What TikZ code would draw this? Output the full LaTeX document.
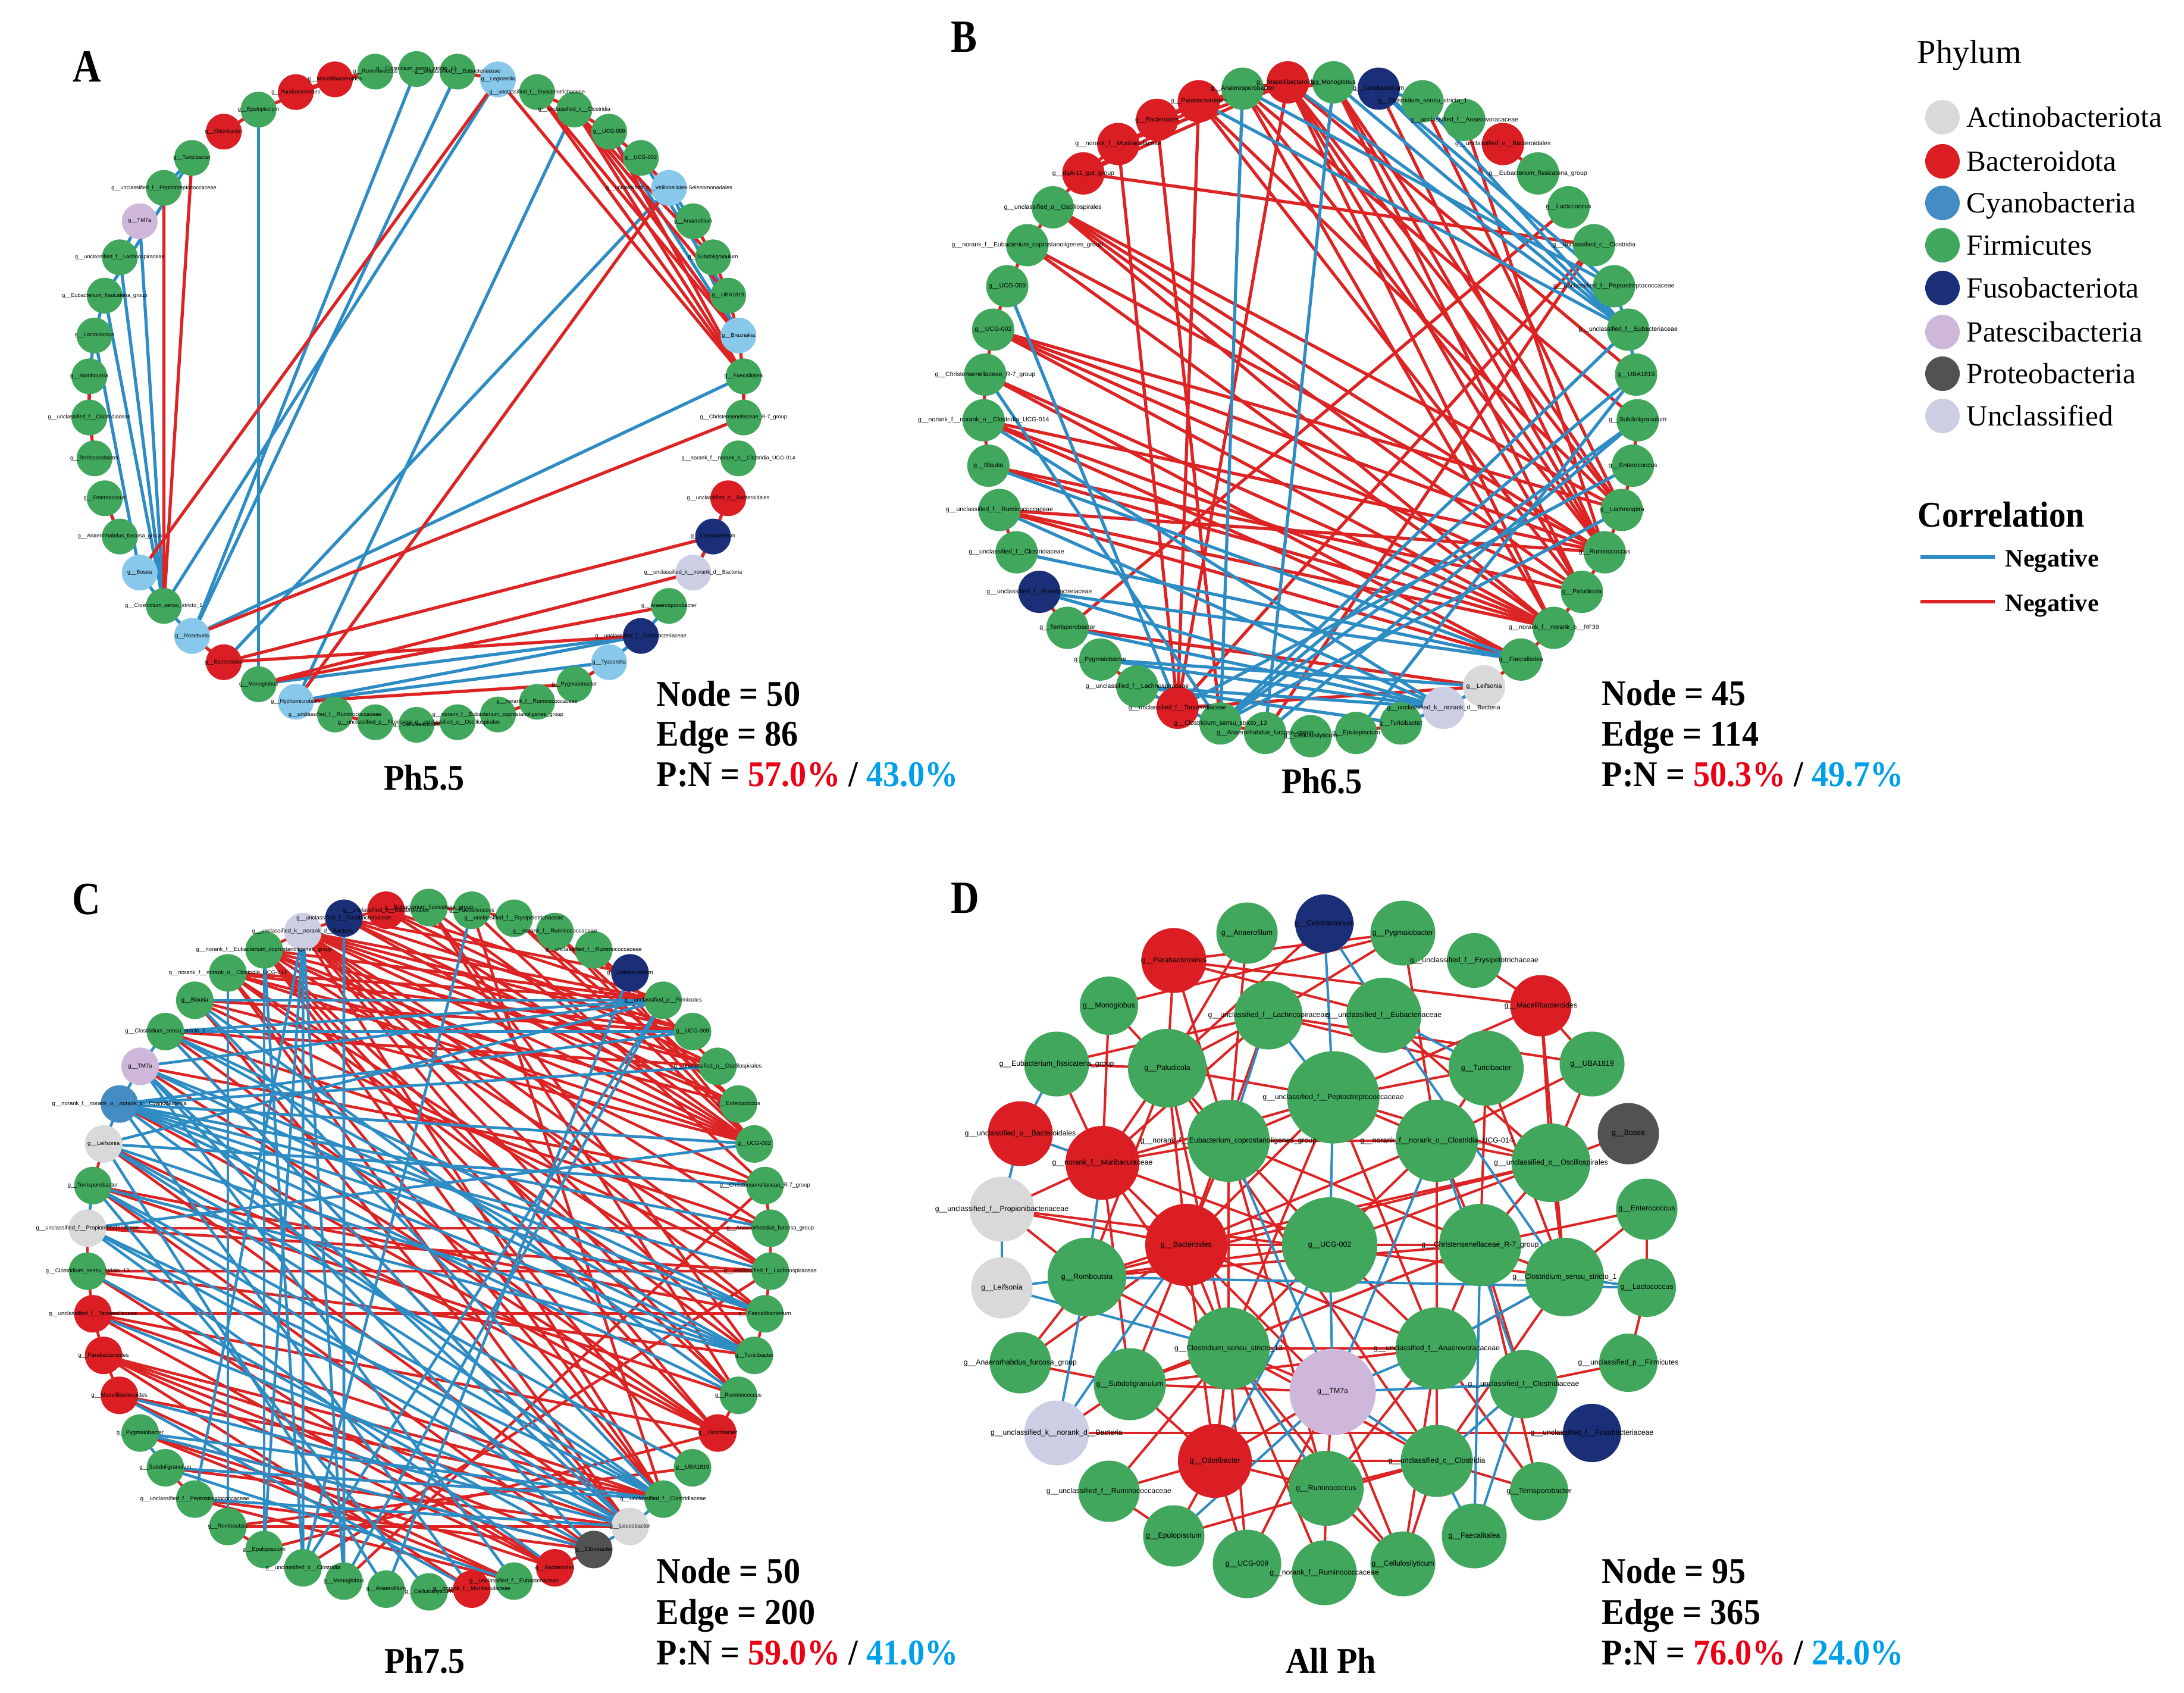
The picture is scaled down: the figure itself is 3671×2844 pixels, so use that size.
\documentclass[tikz,border=0pt]{standalone}
\usepackage{fontspec}
\usepackage{graphicx}
\setmainfont{Liberation Serif}
\newfontfamily\lf{Liberation Sans}
\pgfdeclarelayer{bg}\pgfdeclarelayer{edges}\pgfdeclarelayer{fg}
\pgfsetlayers{bg,edges,main,fg}
\definecolor{act}{RGB}{217,217,217}
\definecolor{bac}{RGB}{218,30,36}
\definecolor{cya}{RGB}{67,141,196}
\definecolor{fir}{RGB}{64,167,92}
\definecolor{fus}{RGB}{27,47,120}
\definecolor{pat}{RGB}{206,183,216}
\definecolor{pro}{RGB}{82,82,82}
\definecolor{unc}{RGB}{204,206,228}
\definecolor{sky}{RGB}{135,200,235}
\definecolor{eblue}{RGB}{45,140,196}
\definecolor{ered}{RGB}{220,36,36}
\definecolor{sred}{RGB}{235,0,20}
\definecolor{sblue}{RGB}{0,160,233}
\newcommand\lab[1]{\detokenize\expandafter{#1}}
\newcommand\vs[1]{\scalebox{1}[1.08]{#1}}
\newcommand\ringnodes[7]{%
  \foreach \i/\nm/\cl in \ringlist {%
    \node[rn,fill=\cl,minimum size=#7cm] (#1\i) at ({#2+#4*cos(#5-(\i-1)*#6)},{#3-#4*sin(#5-(\i-1)*#6)}) {};
    \begin{pgfonlayer}{fg}\node[lb#1] (#1\i t) at (#1\i.center) {\lab{\nm}};\end{pgfonlayer}
  }}
\newcommand\ringedges[3]{%
  \begin{pgfonlayer}{edges}
  \foreach \a/\b in {#3} {\draw[#2] (#1\a.center) -- (#1\b.center);}
  \end{pgfonlayer}}
\begin{document}
\begin{tikzpicture}[x=0.01cm,y=-0.01cm,
  rn/.style={circle,inner sep=0pt,draw=none},
  lbA/.style={inner sep=0pt,font=\lf\fontsize{2.6}{3}\selectfont},
  lbB/.style={inner sep=0pt,font=\lf\fontsize{3}{3.4}\selectfont},
  lbC/.style={inner sep=0pt,font=\lf\fontsize{2.7}{3.1}\selectfont},
  lbD/.style={inner sep=0pt,font=\lf\fontsize{3.5}{4}\selectfont},
  ebA/.style={draw=eblue,line width=1.5pt},
  erA/.style={draw=ered,line width=1.5pt},
  ebC/.style={draw=eblue,line width=1.3pt},
  erC/.style={draw=ered,line width=1.3pt},
  ebD/.style={draw=eblue,line width=1.15pt},
  erD/.style={draw=ered,line width=1.15pt},
  stat/.style={anchor=base west,inner sep=0pt,font=\fontsize{16}{19}\selectfont\bfseries},
  ttl/.style={anchor=base,inner sep=0pt,font=\fontsize{16}{19}\selectfont\bfseries},
  plet/.style={inner sep=0pt,font=\fontsize{22}{26}\selectfont\bfseries},
  lgc/.style={circle,inner sep=0pt,minimum size=0.58cm},
  lgt/.style={anchor=base west,inner sep=0pt,font=\fontsize{14}{17}\selectfont},
]
\begin{pgfonlayer}{bg}
\fill[white] (0,0) rectangle (3671,2844);
\end{pgfonlayer}
\useasboundingbox (0,0) rectangle (3671,2844);

%%%%%%%%%%%%%%%% Panel A
\def\ringlist{1/g__Clostridium_sensu_stricto_13/fir,2/g__unclassified_f__Eubacteriaceae/fir,3/g__Legionella/sky,4/g__unclassified_f__Erysipelotrichaceae/fir,5/g__unclassified_c__Clostridia/fir,6/g__UCG-009/fir,7/g__UCG-002/fir,8/g__unclassified_o__Veillonellales-Selenomonadales/sky,9/g__Anaerofilum/fir,10/g__Subdoligranulum/fir,11/g__UBA1819/fir,12/g__Breznakia/sky,13/g__Faecalitalea/fir,14/g__Christensenellaceae_R-7_group/fir,15/g__norank_f__norank_o__Clostridia_UCG-014/fir,16/g__unclassified_o__Bacteroidales/bac,17/g__Cetobacterium/fus,18/g__unclassified_k__norank_d__Bacteria/unc,19/g__Anaerosporobacter/fir,20/g__unclassified_f__Fusobacteriaceae/fus,21/g__Tyzzerella/sky,22/g__Pygmaiobacter/fir,23/g__norank_f__Ruminococcaceae/fir,24/g__norank_f__Eubacterium_coprostanoligenes_group/fir,25/g__unclassified_o__Oscillospirales/fir,26/g__Cellulosilyticum/fir,27/g__unclassified_p__Firmicutes/fir,28/g__unclassified_f__Ruminococcaceae/fir,29/g__Hyphomicrobium/sky,30/g__Monoglobus/fir,31/g__Bacteroides/bac,32/g__Roseburia/sky,33/g__Clostridium_sensu_stricto_1/fir,34/g__Bosea/sky,35/g__Anaerorhabdus_furcosa_group/fir,36/g__Enterococcus/fir,37/g__Terrisporobacter/fir,38/g__unclassified_f__Clostridiaceae/fir,39/g__Romboutsia/fir,40/g__Lactococcus/fir,41/g__Eubacterium_fissicatena_group/fir,42/g__unclassified_f__Lachnospiraceae/fir,43/g__TM7a/pat,44/g__unclassified_f__Peptostreptococcaceae/fir,45/g__Turicibacter/fir,46/g__Odoribacter/bac,47/g__Epulopiscium/fir,48/g__Parabacteroides/bac,49/g__Macellibacteroides/bac,50/g__Ruminococcus/fir}
\ringnodes{A}{700}{667}{551}{90}{7.2}{0.60}
\ringedges{A}{ebA}{1/32,2/32,3/33,5/29,8/31,13/32,47/30,43/33,42/33,41/33,40/34,45/41,20/30,20/29,21/29,6/12,7/11,8/12,5/12,33/34,32/33,42/43,40/41,20/21,19/20,18/17,8/9,44/45,39/40,36/35}
\ringedges{A}{erA}{44/33,45/33,3/34,3/13,5/11,5/12,5/13,5/10,4/12,6/13,4/13,8/29,14/32,17/31,18/30,20/31,19/30,22/29,48/49,49/50,47/49,48/50,46/47,35/36,38/39,16/17,17/18,10/11,11/12,12/13,13/14,6/7,7/8,9/10,27/28,25/26,23/24,21/22,31/32,2/3,4/5,5/6,37/38}
\node[plet] (LA) at (146,112) {\scalebox{0.85}[1]{A}};
\node[ttl] (TA) at (713,1327) {\vs{Ph5.5}};
\node[stat] (SA1) at (1103,1186) {\vs{Node = 50}};
\node[stat] (SA2) at (1103,1253) {\vs{Edge = 86}};
\node[stat] (SA3) at (1103,1321) {\vs{P:N = \textcolor{sred}{57.0\%} / \textcolor{sblue}{43.0\%}}};

%%%%%%%%%%%%%%%% Panel B
\def\ringlist{1/g__Monoglobus/fir,2/g__Cetobacterium/fus,3/g__Clostridium_sensu_stricto_1/fir,4/g__unclassified_f__Anaerovoracaceae/fir,5/g__unclassified_o__Bacteroidales/bac,6/g__Eubacterium_fissicatena_group/fir,7/g__Lactococcus/fir,8/g__unclassified_c__Clostridia/fir,9/g__unclassified_f__Peptostreptococcaceae/fir,10/g__unclassified_f__Eubacteriaceae/fir,11/g__UBA1819/fir,12/g__Subdoligranulum/fir,13/g__Enterococcus/fir,14/g__Lachnospira/fir,15/g__Ruminococcus/fir,16/g__Paludicola/fir,17/g__norank_f__norank_o__RF39/fir,18/g__Faecalitalea/fir,19/g__Leifsonia/act,20/g__unclassified_k__norank_d__Bacteria/unc,21/g__Turicibacter/fir,22/g__Epulopiscium/fir,23/g__Cellulosilyticum/fir,24/g__Anaerorhabdus_furcosa_group/fir,25/g__Clostridium_sensu_stricto_13/fir,26/g__unclassified_f__Tannerellaceae/bac,27/g__unclassified_f__Lachnospiraceae/fir,28/g__Pygmaiobacter/fir,29/g__Terrisporobacter/fir,30/g__unclassified_f__Fusobacteriaceae/fus,31/g__unclassified_f__Clostridiaceae/fir,32/g__unclassified_f__Ruminococcaceae/fir,33/g__Blautia/fir,34/g__norank_f__norank_o__Clostridia_UCG-014/fir,35/g__Christensenellaceae_R-7_group/fir,36/g__UCG-002/fir,37/g__UCG-009/fir,38/g__norank_f__Eubacterium_coprostanoligenes_group/fir,39/g__unclassified_o__Oscillospirales/fir,40/g__dgA-11_gut_group/bac,41/g__norank_f__Muribaculaceae/bac,42/g__Bacteroides/bac,43/g__Parabacteroides/bac,44/g__Anaerosporobacter/fir,45/g__Macellibacteroides/bac}
\ringnodes{B}{2203}{687}{550}{86}{8}{0.71}
\ringedges{B}{erA}{45/15,45/14,45/16,45/17,44/15,44/17,1/15,1/14,1/16,2/15,45/26,43/26,41/26,42/25,7/29,8/26,39/14,39/15,39/17,39/16,38/15,38/17,36/14,36/15,36/17,36/16,35/17,35/18,34/15,34/17,34/18,33/16,33/17,32/18,32/17,32/15,29/19,24/8,40/45,40/44,41/45,41/44,42/44,43/1,45/11,44/12,3/14,4/15,26/19,43/14,43/16,40/8,37/38,35/36,33/34,31/32,39/40,13/14,15/16,17/18,5/6,21/22,27/28,29/30,36/37,34/35,40/41,42/43,44/45,38/39,12/13,14/15,16/17,24/25,18/19}
\ringedges{B}{ebA}{44/25,1/24,45/10,44/9,1/10,43/10,2/10,3/10,2/9,31/18,30/18,30/20,28/19,28/20,27/20,27/21,37/26,35/25,25/11,25/12,25/10,26/13,25/14,22/11,24/12,32/20,33/18,34/20,29/20,9/10,10/11,19/20,20/21,25/26,26/27,2/3}
\node[plet] (LB) at (1620,62) {\scalebox{0.85}[1]{B}};
\node[ttl] (TB) at (2222,1333) {\vs{Ph6.5}};
\node[stat] (SB1) at (2692,1185) {\vs{Node = 45}};
\node[stat] (SB2) at (2692,1253) {\vs{Edge = 114}};
\node[stat] (SB3) at (2692,1321) {\vs{P:N = \textcolor{sred}{50.3\%} / \textcolor{sblue}{49.7\%}}};

%%%%%%%%%%%%%%%% Panel C
\def\ringlist{1/g__Eubacterium_fissicatena_group/fir,2/g__Faecalicoccus/fir,3/g__unclassified_f__Erysipelotrichaceae/fir,4/g__norank_f__Ruminococcaceae/fir,5/g__unclassified_f__Ruminococcaceae/fir,6/g__Cetobacterium/fus,7/g__unclassified_p__Firmicutes/fir,8/g__UCG-009/fir,9/g__unclassified_o__Oscillospirales/fir,10/g__Enterococcus/fir,11/g__UCG-002/fir,12/g__Christensenellaceae_R-7_group/fir,13/g__Anaerorhabdus_furcosa_group/fir,14/g__unclassified_f__Lachnospiraceae/fir,15/g__Faecalibacterium/fir,16/g__Turicibacter/fir,17/g__Ruminococcus/fir,18/g__Odoribacter/bac,19/g__UBA1819/fir,20/g__unclassified_f__Clostridiaceae/fir,21/g__Leucobacter/act,22/g__Citrobacter/pro,23/g__Bacteroides/bac,24/g__unclassified_f__Eubacteriaceae/fir,25/g__norank_f__Muribaculaceae/bac,26/g__Cellulosilyticum/fir,27/g__Anaerofilum/fir,28/g__Monoglobus/fir,29/g__unclassified_c__Clostridia/fir,30/g__Epulopiscium/fir,31/g__Romboutsia/fir,32/g__unclassified_f__Peptostreptococcaceae/fir,33/g__Subdoligranulum/fir,34/g__Pygmaiobacter/fir,35/g__Macellibacteroides/bac,36/g__Parabacteroides/bac,37/g__unclassified_f__Tannerellaceae/bac,38/g__Clostridium_sensu_stricto_13/fir,39/g__unclassified_f__Propionibacteriaceae/act,40/g__Terrisporobacter/fir,41/g__Leifsonia/act,42/g__norank_f__norank_o__norank_c__Cyanobacteriia/cya,43/g__TM7a/pat,44/g__Clostridium_sensu_stricto_1/fir,45/g__Blautia/fir,46/g__norank_f__norank_o__Clostridia_UCG-014/fir,47/g__norank_f__Eubacterium_coprostanoligenes_group/fir,48/g__unclassified_k__norank_d__Bacteria/unc,49/g__unclassified_f__Fusobacteriaceae/fus,50/g__unclassified_o__Bacteroidales/bac}
\ringnodes{C}{721}{2100}{575}{90}{7.2}{0.63}
\ringedges{C}{erC}{48/8,48/9,48/10,48/11,48/13,48/14,48/15,48/16,48/17,48/20,47/7,47/9,47/11,47/12,47/14,47/17,47/18,46/7,46/8,46/10,46/11,46/15,49/6,49/10,49/11,50/7,50/9,45/8,45/11,44/9,1/16,1/17,3/10,3/11,4/10,4/11,5/11,5/9,39/14,38/14,39/13,40/17,41/18,42/18,40/15,37/15,38/16,35/20,36/20,36/21,33/21,32/22,31/21,34/22,37/20,18/44,18/43,18/37,18/30,19/31,12/28,14/29,21/44,21/45,21/46,20/46,20/47,23/38,23/37,22/36,24/34,25/36,2/20,44/13,43/12,45/14,46/16,47/19,48/18,2/12,1/11,50/11,49/8,48/7,36/23,35/24,34/23,32/24,40/22,41/21,1/2,2/3,12/13,13/14,14/15,15/16,17/18,35/36,36/37,37/38,38/39,40/41,47/48,48/49,49/50,22/23,25/26,30/31,32/33}
\ringedges{C}{ebC}{2/29,42/11,42/15,42/16,42/17,42/20,42/14,41/12,41/16,41/19,41/20,43/15,43/16,43/21,40/16,40/20,40/21,39/20,39/21,44/7,44/8,45/7,43/7,42/8,41/7,42/9,35/21,34/20,33/20,32/21,37/21,22/34,24/33,25/35,29/7,28/7,27/6,29/48,28/48,30/48,29/47,31/46,11/39,13/42,15/44,16/44,17/45,43/22,44/21,45/20,46/31,47/30,48/32,49/28,40/26,41/27,43/24,42/25,39/23,38/22,41/42,42/43,43/44,39/40,20/21,21/22,33/34}
\node[plet] (LC) at (145,1511) {\scalebox{0.85}[1]{C}};
\node[ttl] (TC) at (714,2811) {\vs{Ph7.5}};
\node[stat] (SC1) at (1103,2660) {\vs{Node = 50}};
\node[stat] (SC2) at (1103,2729) {\vs{Edge = 200}};
\node[stat] (SC3) at (1103,2797) {\vs{P:N = \textcolor{sred}{59.0\%} / \textcolor{sblue}{41.0\%}}};

%%%%%%%%%%%%%%%% Panel D
\foreach \nn/\px/\py/\dd/\cl/\nm in {Dafil/2096/1568/1.03/fir/g__Anaerofilum,Dceto/2226/1552/0.98/fus/g__Cetobacterium,Dpygm/2358/1568/1.09/fir/g__Pygmaiobacter,Dparab/1973/1614/1.09/bac/g__Parabacteroides,Deryp/2478/1614/0.92/fir/g__unclassified_f__Erysipelotrichaceae,Dmono/1864/1690/0.98/fir/g__Monoglobus,Dmacel/2590/1690/1.03/bac/g__Macellibacteroides,Dlach/2132/1706/1.15/fir/g__unclassified_f__Lachnospiraceae,Deuba/2326/1706/1.26/fir/g__unclassified_f__Eubacteriaceae,Dfiss/1776/1788/1.09/fir/g__Eubacterium_fissicatena_group,Dpalu/1962/1795/1.32/fir/g__Paludicola,Dturi/2498/1795/1.26/fir/g__Turicibacter,Duba/2676/1788/1.09/fir/g__UBA1819,Dpept/2241/1844/1.55/fir/g__unclassified_f__Peptostreptococcaceae,Dbdal/1715/1905/1.09/bac/g__unclassified_o__Bacteroidales,Decop/2065/1917/1.38/fir/g__norank_f__Eubacterium_coprostanoligenes_group,Ducg14/2415/1917/1.38/fir/g__norank_f__norank_o__Clostridia_UCG-014,Dbosea/2737/1905/1.03/pro/g__Bosea,Dmuri/1853/1954/1.24/bac/g__norank_f__Muribaculaceae,Dosci/2607/1954/1.32/fir/g__unclassified_o__Oscillospirales,Dprop/1684/2032/1.09/act/g__unclassified_f__Propionibacteriaceae,Dente/2768/2032/1.03/fir/g__Enterococcus,Dbact/1994/2092/1.38/bac/g__Bacteroides,Ducg2/2235/2092/1.60/fir/g__UCG-002,Dchri/2488/2092/1.38/fir/g__Christensenellaceae_R-7_group,Drom/1827/2146/1.32/fir/g__Romboutsia,Dleif/1684/2164/1.03/act/g__Leifsonia,Dcs1/2630/2146/1.32/fir/g__Clostridium_sensu_stricto_1,Dlact/2768/2164/0.98/fir/g__Lactococcus,Dcs13/2065/2266/1.38/fir/g__Clostridium_sensu_stricto_13,Danvo/2415/2266/1.38/fir/g__unclassified_f__Anaerovoracaceae,Danrh/1715/2290/1.03/fir/g__Anaerorhabdus_furcosa_group,Dsubd/1899/2326/1.21/fir/g__Subdoligranulum,Dtm7/2240/2339/1.45/pat/g__TM7a,Dclos/2561/2326/1.15/fir/g__unclassified_f__Clostridiaceae,Dfirm/2737/2290/0.98/fir/g__unclassified_p__Firmicutes,Dunk/1776/2408/1.09/unc/g__unclassified_k__norank_d__Bacteria,Dfuso/2676/2408/0.98/fus/g__unclassified_f__Fusobacteriaceae,Dodor/2042/2455/1.24/bac/g__Odoribacter,Dclas/2415/2455/1.21/fir/g__unclassified_c__Clostridia,Drumi/2229/2501/1.26/fir/g__Ruminococcus,Drumu/1864/2506/1.03/fir/g__unclassified_f__Ruminococcaceae,Dterr/2587/2506/0.98/fir/g__Terrisporobacter,Depul/1973/2581/1.03/fir/g__Epulopiscium,Dfaec/2478/2581/1.09/fir/g__Faecalitalea,Ducg9/2096/2628/1.15/fir/g__UCG-009,Drumn/2226/2643/1.09/fir/g__norank_f__Ruminococcaceae,Dcell/2358/2628/1.09/fir/g__Cellulosilyticum}{%
  \node[rn,fill=\cl,minimum size=\dd cm] (\nn) at (\px,\py) {};
  \begin{pgfonlayer}{fg}\node[lbD] (\nn t) at (\nn.center) {\lab{\nm}};\end{pgfonlayer}
}
\begin{pgfonlayer}{edges}
\foreach \a/\b in {Dparab/Dmacel,Dparab/Dpalu,Dparab/Decop,Dafil/Decop,Dafil/Dpalu,Dpygm/Dmono,Dpygm/Dlach,Dpygm/Dparab,Dmacel/Duba,Dmacel/Dosci,Dmacel/Dpept,Duba/Dlach,Duba/Dosci,Duba/Ducg14,Dfiss/Dmuri,Dfiss/Dpalu,Dmuri/Dpalu,Dmuri/Dprop,Dprop/Drom,Dprop/Dcs1,Dunk/Dfuso,Dunk/Dsubd,Dlact/Dfirm,Dlact/Dente,Dente/Dchri,Dbosea/Dosci,Dterr/Dclas,Dterr/Danvo,Dcell/Drumi,Dcell/Dtm7,Dcell/Danvo,Ducg9/Dodor,Ducg9/Dtm7,Ducg9/Dcs13,Drumn/Drumi,Drumn/Dcs13,Depul/Dclas,Depul/Drumu,Depul/Dodor,Drumu/Dcs13,Dtm7/Dcs13,Dtm7/Dbact,Dtm7/Drumi,Dtm7/Dsubd,Dtm7/Dodor,Ducg2/Dbact,Ducg2/Dchri,Ducg2/Decop,Ducg2/Ducg14,Ducg2/Dcs13,Ducg2/Danvo,Ducg2/Drom,Ducg2/Dmuri,Ducg2/Dosci,Dpept/Decop,Dpept/Ducg14,Dpept/Dpalu,Dpept/Dturi,Dpept/Dosci,Dpept/Dbact,Dpept/Dmuri,Dpept/Dcs13,Dpept/Danvo,Decop/Dmuri,Decop/Dbact,Decop/Dpalu,Decop/Ducg14,Decop/Dcs13,Decop/Dchri,Ducg14/Dosci,Ducg14/Dchri,Ducg14/Dturi,Ducg14/Danvo,Ducg14/Dbact,Dosci/Dchri,Dosci/Dcs1,Dchri/Dcs1,Dchri/Danvo,Dchri/Dclos,Dchri/Dbact,Dchri/Dterr,Dcs1/Dente,Dcs1/Danvo,Drom/Dbact,Drom/Danrh,Drom/Dcs13,Drom/Dchri,Dbact/Dmuri,Dbact/Dcs13,Dbact/Dsubd,Dbact/Dodor,Dbact/Dpalu,Dbact/Danvo,Dmuri/Dcs13,Dpalu/Dlach,Dpalu/Dcs13,Dcs13/Danvo,Dcs13/Dsubd,Dcs13/Dodor,Dcs13/Drumi,Danvo/Dclas,Danvo/Drumi,Danvo/Dsubd,Dsubd/Dodor,Dsubd/Danrh,Dodor/Drumi,Dodor/Dclas,Dclas/Drumi,Dclas/Dcell,Dmono/Dpalu,Dmono/Dmuri,Dfiss/Dlach,Danrh/Dbact,Dturi/Dchri,Dturi/Dcs1,Dturi/Dlach,Dosci/Dbact,Dcs13/Dclas,Drumu/Dodor,Dpalu/Drom,Dmuri/Dsubd,Deuba/Dosci,Deuba/Dparab,Dlach/Dbact,Dlach/Dmuri,Dprop/Dbact,Dcs1/Dclas,Dchri/Dsubd,Dfirm/Dclos,Dceto/Dpalu,Dpygm/Ducg14,Deryp/Dmacel,Dmacel/Dcs1,Dosci/Drom,Dpalu/Dclas,Decop/Drumi,Dsubd/Dchri,Dcs13/Dcell}
  {\draw[erD] (\a.center) -- (\b.center);}
\foreach \a/\b in {Dceto/Dpept,Dceto/Deuba,Dpept/Dlach,Dpept/Ducg2,Deuba/Dcs1,Deuba/Dturi,Dlach/Decop,Dfiss/Dbdal,Dbdal/Dprop,Dprop/Dleif,Dleif/Drom,Dleif/Dcs13,Dunk/Drom,Dlact/Dcs1,Dfaec/Dclas,Dfaec/Dchri,Dtm7/Danvo,Dtm7/Dclos,Dtm7/Dclas,Dclos/Dclas,Dclos/Dfaec,Ducg14/Dclos,Drom/Dlact,Dmuri/Drom,Dbdal/Dmuri,Drumi/Dcs13,Dodor/Ducg2,Decop/Dtm7,Ducg14/Dtm7,Dtm7/Ducg2,Danvo/Dcs1,Dunk/Dbact,Depul/Dtm7}
  {\draw[ebD] (\a.center) -- (\b.center);}
\end{pgfonlayer}
\node[plet] (LD) at (1622,1509) {\scalebox{0.85}[1]{D}};
\node[ttl] (TD) at (2237,2811) {\vs{All Ph}};
\node[stat] (SD1) at (2692,2660) {\vs{Node = 95}};
\node[stat] (SD2) at (2692,2729) {\vs{Edge = 365}};
\node[stat] (SD3) at (2692,2797) {\vs{P:N = \textcolor{sred}{76.0\%} / \textcolor{sblue}{24.0\%}}};

%%%%%%%%%%%%%%%% Legend
\node[anchor=base west,inner sep=0pt,font=\fontsize{16}{19}\selectfont] (lph) at (3222,106) {Phylum};
\foreach \k/\cl/\nm/\py in {1/act/Actinobacteriota/197,2/bac/Bacteroidota/271,3/cya/Cyanobacteria/341,4/fir/Firmicutes/412,5/fus/Fusobacteriota/484,6/pat/Patescibacteria/558,7/pro/Proteobacteria/628,8/unc/Unclassified/699}{%
  \node[lgc,fill=\cl] (lc\k) at (3265,\py) {};
  \node[lgt] (lt\k) at (3305,\py+16) {\nm};
}
\node[anchor=base west,inner sep=0pt,font=\fontsize{16}{19}\selectfont\bfseries] (lcor) at (3223,885) {\vs{Correlation}};
\coordinate (lb1) at (3228,936);
\coordinate (lb2) at (3353,936);
\coordinate (lr1) at (3228,1011);
\coordinate (lr2) at (3353,1011);
\draw[draw=eblue,line width=1.8pt] (lb1) -- (lb2);
\draw[draw=ered,line width=1.8pt] (lr1) -- (lr2);
\node[anchor=base west,inner sep=0pt,font=\fontsize{12}{14}\selectfont\bfseries] (ln1) at (3370,952) {Negative};
\node[anchor=base west,inner sep=0pt,font=\fontsize{12}{14}\selectfont\bfseries] (ln2) at (3370,1027) {Negative};
\end{tikzpicture}
\end{document}
